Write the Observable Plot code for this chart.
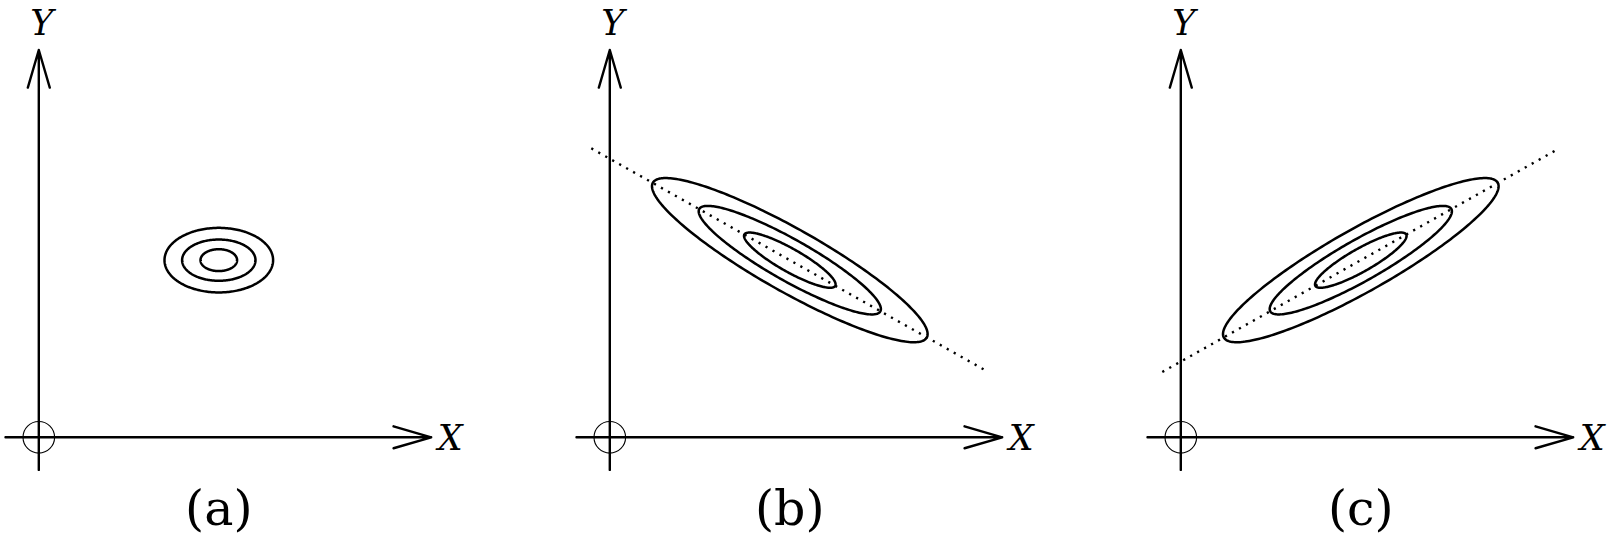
<!DOCTYPE html>
<html><head><meta charset="utf-8">
<script src="https://cdn.jsdelivr.net/npm/d3@7"></script>
<script src="https://cdn.jsdelivr.net/npm/@observablehq/plot@0.6"></script>
<style>
html,body{margin:0;padding:0;background:#fff;overflow:hidden;}
#fig{display:flex;width:1615px;height:546px;}
#fig > div{flex:none;}
svg{display:block;}
</style></head><body><div id="fig"></div>
<script>
// ---- data ----
const panelLabels = ["(a)", "(b)", "(c)"];
const tiltDeg = [0, -28.4, 28.4];          // orientation of the major axis
const contourLevels = [1, 2, 3];
const majorSemi = [[18.3, 36.7, 54.3], [51.7, 103, 155.8], [51.7, 103, 155.8]];
const minorSemi = [[10.5, 19.8, 31.0], [11.2, 20.1, 30.4], [11.2, 20.1, 30.4]];
const meanXY = [180, 170];
const hasTrend = [false, true, true];
const trendXRange = [-18.5, 377.5];
const axisLabels = ["X", "Y"];

// ---- layout ----
const panelWidths = [571, 571, 473];
const originLeft = 38.3, originTop = 436.8, yUnit = 1.042, H = 546;

const fig = document.getElementById("fig");

panelLabels.forEach((lab, i) => {
  const W = panelWidths[i];
  const th = tiltDeg[i] * Math.PI / 180;
  const [cx, cy] = meanXY;
  const ell = [];
  contourLevels.forEach((k, j) => {
    const A = majorSemi[i][j], B = minorSemi[i][j];
    for (let s = 0; s < 240; s++) {
      const t = 2 * Math.PI * s / 240;
      ell.push({
        level: k,
        x: cx + A * Math.cos(t) * Math.cos(th) - B * Math.sin(t) * Math.sin(th),
        y: cy + A * Math.cos(t) * Math.sin(th) + B * Math.sin(t) * Math.cos(th)
      });
    }
  });
  const trend = trendXRange.map(x => ({x, y: cy + (x - cx) * Math.tan(th)}));
  const axes = [
    {x1: -33.3, y1: 0, x2: 392.4, y2: 0},
    {x1: 0, y1: -31.3, x2: 0, y2: 371.7}
  ];
  const marks = [
    Plot.line(ell, {x: "x", y: "y", z: "level", curve: "linear-closed", stroke: "black", strokeWidth: 2.5}),
    hasTrend[i] ? Plot.line(trend, {x: "x", y: "y", stroke: "black", strokeWidth: 2.4, strokeDasharray: "2.2,5.8", strokeLinecap: "butt"}) : null,
    Plot.arrow(axes, {x1: "x1", y1: "y1", x2: "x2", y2: "y2", stroke: "black", strokeWidth: 2.4, headAngle: 32.5, headLength: 24.5}),
    Plot.dot([{x: 0, y: 0}], {x: "x", y: "y", r: 15.8, stroke: "black", strokeWidth: 1.1, fill: "none"}),
    Plot.text([axisLabels[1]], {x: 3, y: 386, text: d => d, fontFamily: "DejaVu Serif", fontStyle: "italic", fontSize: 35, textAnchor: "middle", lineAnchor: "bottom", fill: "black"}),
    Plot.text([axisLabels[0]], {x: 399, y: -12.3, text: d => d, fontFamily: "DejaVu Serif", fontStyle: "italic", fontSize: 35, textAnchor: "start", lineAnchor: "bottom", fill: "black"}),
    Plot.text([lab], {x: 180, y: -84, text: d => d, fontFamily: "DejaVu Serif", fontSize: 49, textAnchor: "middle", lineAnchor: "bottom", fill: "black"})
  ].filter(Boolean);
  const chart = Plot.plot({
    width: W, height: H,
    marginLeft: 0, marginRight: 0, marginTop: 0, marginBottom: 0,
    x: {domain: [-originLeft, W - originLeft], axis: null},
    y: {domain: [-(H - originTop) / yUnit, originTop / yUnit], axis: null},
    style: {background: "white", overflow: "visible"},
    marks
  });
  const div = document.createElement("div");
  div.style.width = W + "px";
  div.appendChild(chart);
  fig.appendChild(div);
});
</script></body></html>
